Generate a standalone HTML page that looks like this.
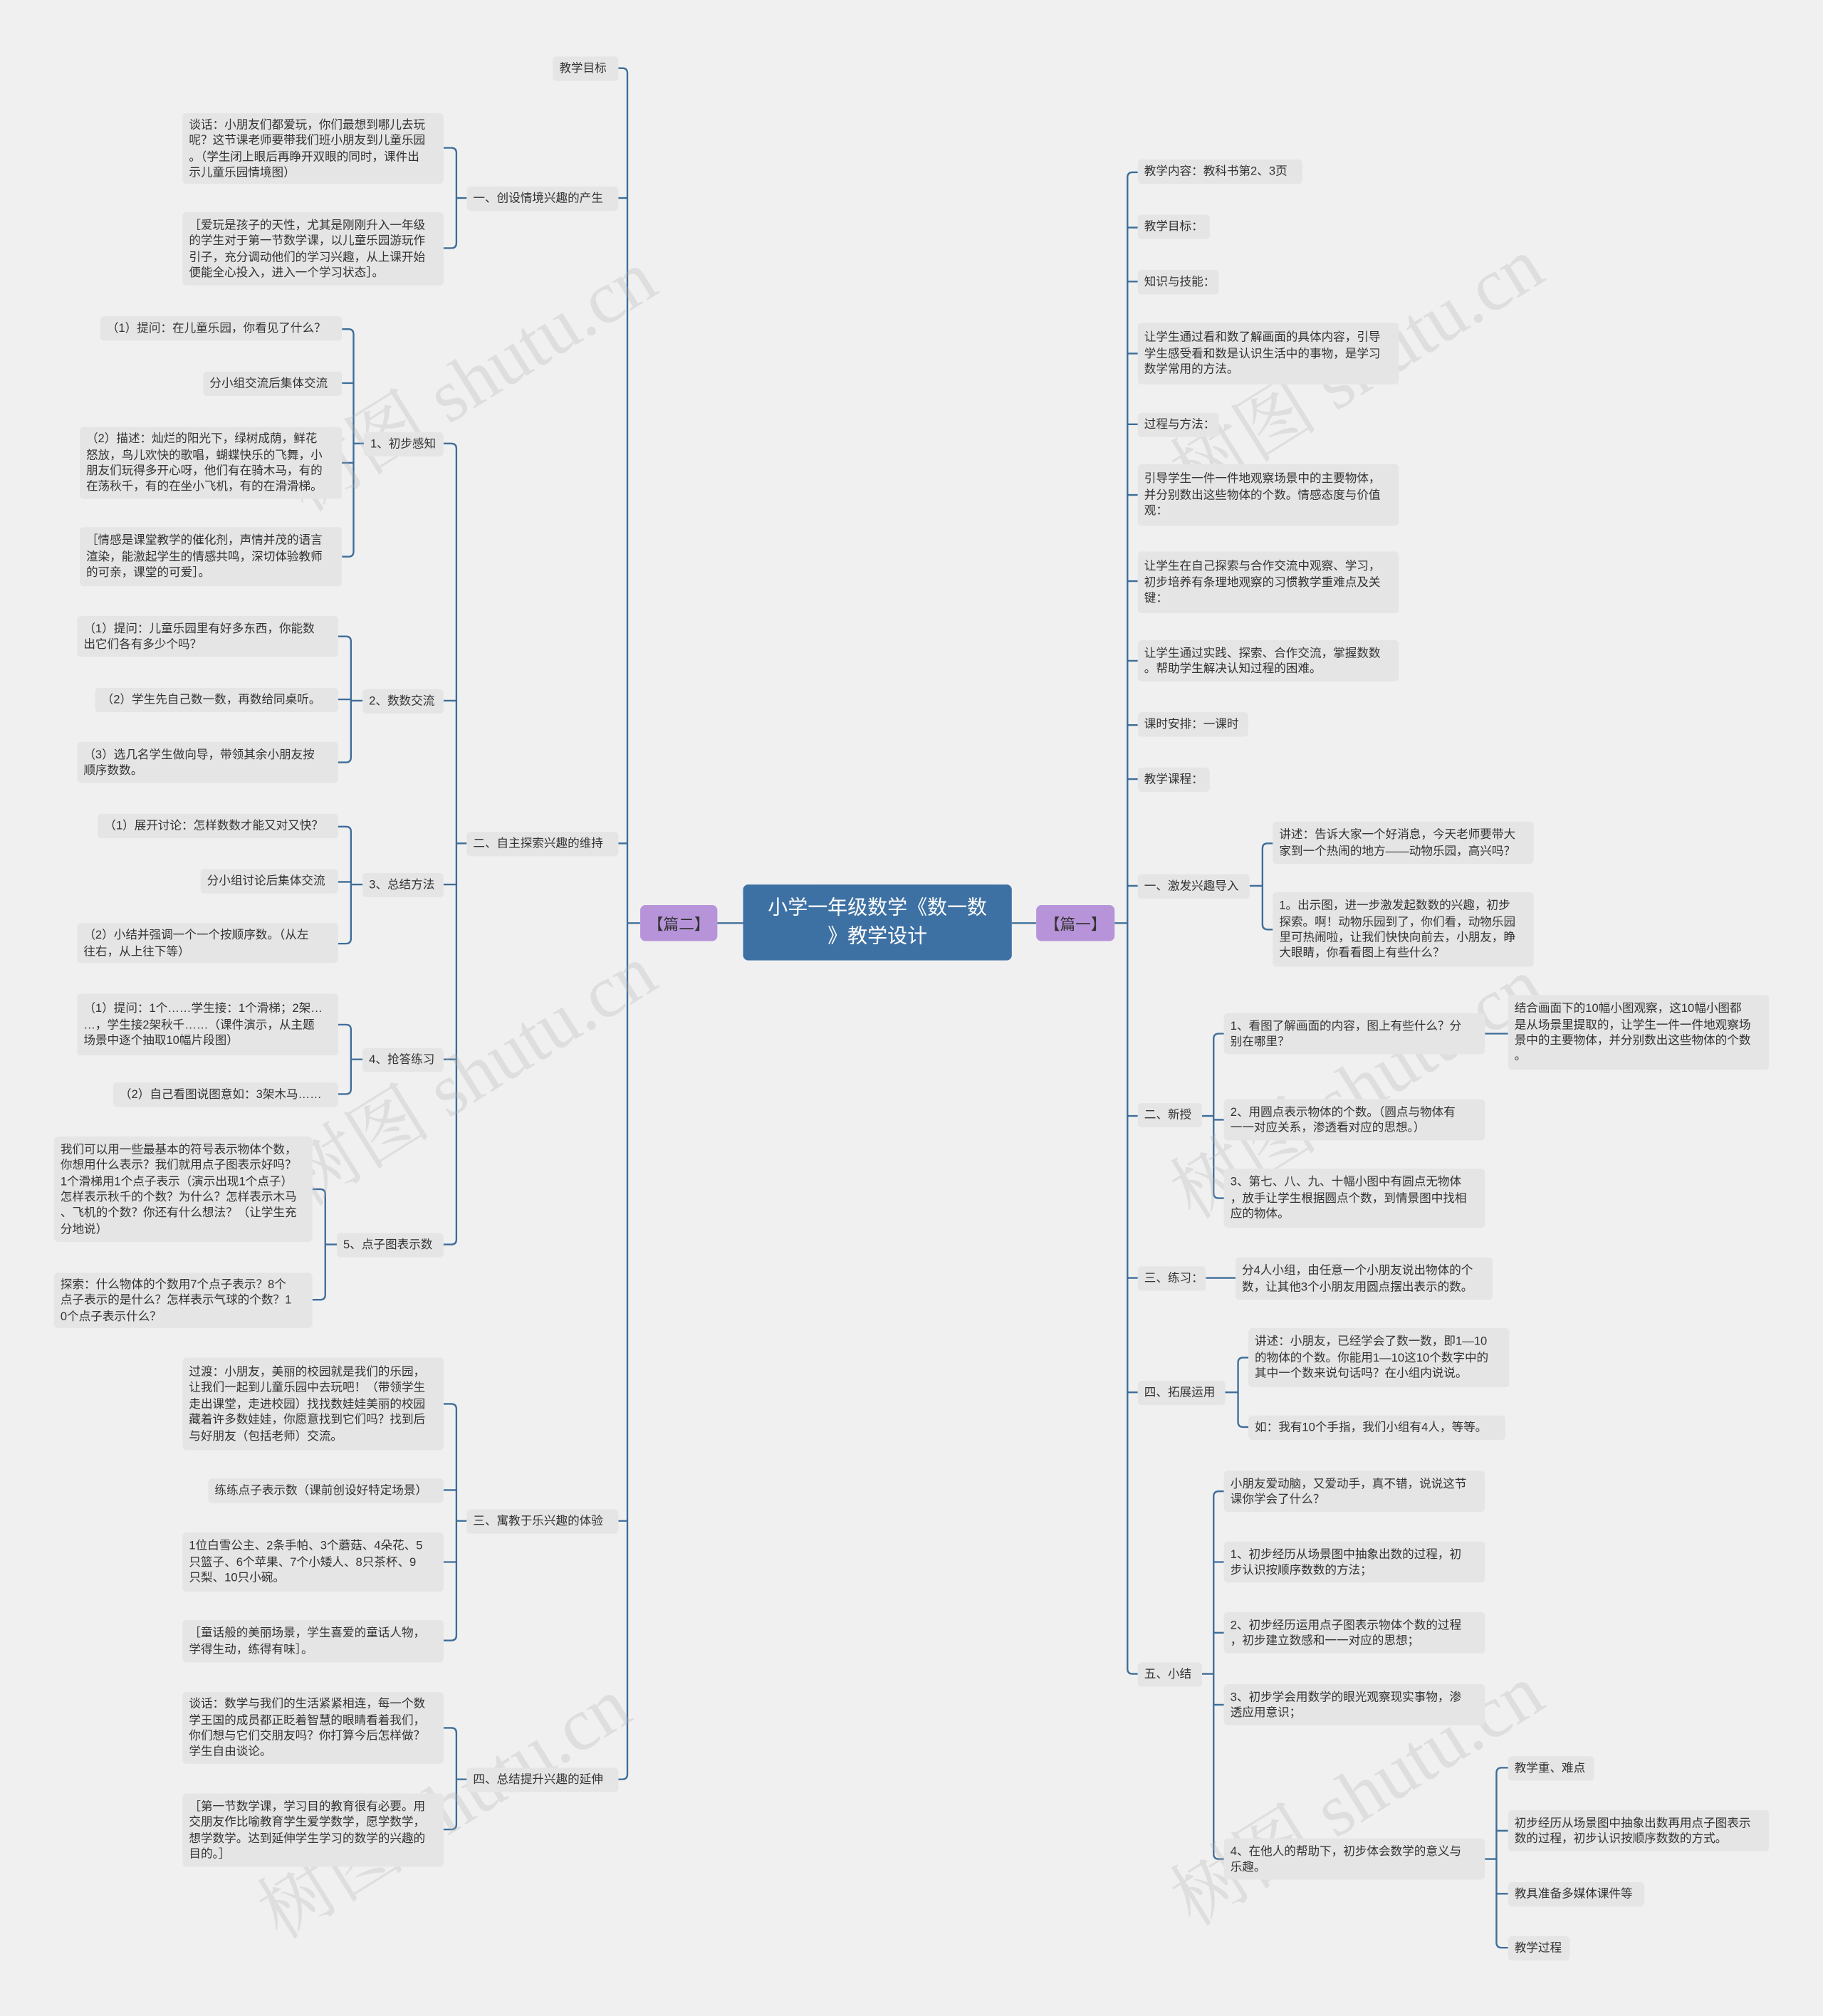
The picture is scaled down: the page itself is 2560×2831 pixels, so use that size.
<!DOCTYPE html>
<html><head><meta charset="utf-8"><style>
html,body{margin:0;padding:0;background:#f0f0f0;}
body{width:2560px;height:2831px;overflow:hidden;position:relative;}
#c{position:absolute;left:0;top:0;width:1418px;height:1568px;transform:scale(1.80536);transform-origin:0 0;font-family:"Liberation Sans","Noto Sans CJK SC",sans-serif;}
.n{position:absolute;background:#e5e5e5;border-radius:3px;font-size:9.2px;line-height:12.4px;color:#333;box-sizing:border-box;padding:0 5px;display:flex;align-items:center;white-space:nowrap;}
.wm{position:absolute;font-size:58px;color:rgba(175,175,175,0.28);transform:rotate(-32deg);white-space:nowrap;font-family:"Liberation Serif","Noto Serif CJK SC",serif;}
svg{position:absolute;left:0;top:0;}
</style></head><body><div id="c">
<svg width="1418" height="1568" fill="none" stroke="#3d6d99" stroke-width="1.3">
<path d="M558 718H578M787 718H806"/>
<path d="M498 718H488M481 53H484Q488 53 488 57V1380Q488 1384 484 1384H481M488 154H481M488 656H481M488 1183H481"/>
<path d="M867 718H877M885 134H881Q877 134 877 138V1298Q877 1302 881 1302H885M877 177H885M877 219H885M877 275H885M877 330H885M877 385H885M877 452H885M877 514H885M877 564H885M877 606H885M877 689H885M877 868H885M877 994H885M877 1083H885"/>
<path d="M363 154H355M345 115H351Q355 115 355 119V189Q355 193 351 193H345"/>
<path d="M363 656H355M345 345H351Q355 345 355 349V964Q355 968 351 968H345M355 545H345M355 688H345M355 824H345"/>
<path d="M283 345H275M266 256H271Q275 256 275 260V429Q275 433 271 433H266M275 298H266M275 360H266"/>
<path d="M282 545H273M263 495H269Q273 495 273 499V589Q273 593 269 593H263M273 544H263"/>
<path d="M282 688H273M263 643H269Q273 643 273 647V730Q273 734 269 734H263M273 686H263"/>
<path d="M282 824H273M263 797H269Q273 797 273 801V847Q273 851 269 851H263"/>
<path d="M262 968H253M243 925H249Q253 925 253 929V1007Q253 1011 249 1011H243"/>
<path d="M363 1183H355M345 1092H351Q355 1092 355 1096V1272Q355 1276 351 1276H345M355 1159H345M355 1215H345"/>
<path d="M363 1384H355M345 1344H351Q355 1344 355 1348V1419Q355 1423 351 1423H345"/>
<path d="M972 689H982M990 656H986Q982 656 982 660V719Q982 723 986 723H990"/>
<path d="M935 868H944M952 804H948Q944 804 944 808V928Q944 932 948 932H952M944 871H952"/>
<path d="M1155 804H1173M938 994H961"/>
<path d="M953 1083H963M971 1056H967Q963 1056 963 1060V1106Q963 1110 967 1110H971"/>
<path d="M935 1302H944M952 1160H948Q944 1160 944 1164V1442Q944 1446 948 1446H952M944 1215H952M944 1270H952M944 1326H952"/>
<path d="M1155 1446H1164M1173 1375H1168Q1164 1375 1164 1379V1511Q1164 1515 1168 1515H1173M1164 1424H1173M1164 1473H1173"/>
</svg>

<div class="wm" style="left:200px;top:250px">树图 shutu.cn</div>
<div class="wm" style="left:200px;top:790px">树图 shutu.cn</div>
<div class="wm" style="left:180px;top:1360px">树图 shutu.cn</div>
<div class="wm" style="left:890px;top:240px">树图 shutu.cn</div>
<div class="wm" style="left:890px;top:800px">树图 shutu.cn</div>
<div class="wm" style="left:890px;top:1350px">树图 shutu.cn</div>

<div style="position:absolute;left:578px;top:688px;width:209px;height:59px;background:#3e71a3;border-radius:4px;color:#fff;font-size:15.5px;line-height:22px;text-align:center;display:flex;align-items:center;justify-content:center;">小学一年级数学《数一数<br>》教学设计</div>
<div style="position:absolute;left:498px;top:704px;width:60px;height:28px;background:#b794d9;border-radius:4px;color:#333;font-size:12px;display:flex;align-items:center;justify-content:center;">【篇二】</div>
<div style="position:absolute;left:806px;top:704px;width:61px;height:28px;background:#b794d9;border-radius:4px;color:#333;font-size:12px;display:flex;align-items:center;justify-content:center;">【篇一】</div>

<!-- left -->
<div class="n" style="left:430px;top:44px;width:51px;height:19px">教学目标</div>
<div class="n" style="left:363px;top:145px;width:118px;height:19px">一、创设情境兴趣的产生</div>
<div class="n" style="left:363px;top:647px;width:118px;height:19px">二、自主探索兴趣的维持</div>
<div class="n" style="left:363px;top:1174px;width:118px;height:19px">三、寓教于乐兴趣的体验</div>
<div class="n" style="left:363px;top:1375px;width:118px;height:19px">四、总结提升兴趣的延伸</div>

<div class="n" style="left:142px;top:88px;width:203px;height:55px"><div>谈话：小朋友们都爱玩，你们最想到哪儿去玩<br>呢？这节课老师要带我们班小朋友到儿童乐园<br>。（学生闭上眼后再睁开双眼的同时，课件出<br>示儿童乐园情境图）</div></div>
<div class="n" style="left:142px;top:165px;width:203px;height:57px"><div>［爱玩是孩子的天性，尤其是刚刚升入一年级<br>的学生对于第一节数学课，以儿童乐园游玩作<br>引子，充分调动他们的学习兴趣，从上课开始<br>便能全心投入，进入一个学习状态］。</div></div>

<div class="n" style="left:283px;top:336px;width:62px;height:19px">1、初步感知</div>
<div class="n" style="left:282px;top:536px;width:63px;height:19px">2、数数交流</div>
<div class="n" style="left:282px;top:679px;width:63px;height:19px">3、总结方法</div>
<div class="n" style="left:282px;top:815px;width:63px;height:19px">4、抢答练习</div>
<div class="n" style="left:262px;top:959px;width:83px;height:19px">5、点子图表示数</div>

<div class="n" style="left:78px;top:246px;width:188px;height:19px">（1）提问：在儿童乐园，你看见了什么？</div>
<div class="n" style="left:158px;top:289px;width:108px;height:19px">分小组交流后集体交流</div>
<div class="n" style="left:62px;top:332px;width:204px;height:56px"><div>（2）描述：灿烂的阳光下，绿树成荫，鲜花<br>怒放，鸟儿欢快的歌唱，蝴蝶快乐的飞舞，小<br>朋友们玩得多开心呀，他们有在骑木马，有的<br>在荡秋千，有的在坐小飞机，有的在滑滑梯。</div></div>
<div class="n" style="left:62px;top:410px;width:204px;height:46px"><div>［情感是课堂教学的催化剂，声情并茂的语言<br>渲染，能激起学生的情感共鸣，深切体验教师<br>的可亲，课堂的可爱］。</div></div>

<div class="n" style="left:60px;top:479px;width:203px;height:32px"><div>（1）提问：儿童乐园里有好多东西，你能数<br>出它们各有多少个吗？</div></div>
<div class="n" style="left:74px;top:535px;width:189px;height:19px">（2）学生先自己数一数，再数给同桌听。</div>
<div class="n" style="left:60px;top:577px;width:203px;height:32px"><div>（3）选几名学生做向导，带领其余小朋友按<br>顺序数数。</div></div>

<div class="n" style="left:76px;top:633px;width:187px;height:19px">（1）展开讨论：怎样数数才能又对又快？</div>
<div class="n" style="left:156px;top:676px;width:107px;height:19px">分小组讨论后集体交流</div>
<div class="n" style="left:60px;top:718px;width:203px;height:31px"><div>（2）小结并强调一个一个按顺序数。（从左<br>往右，从上往下等）</div></div>

<div class="n" style="left:60px;top:773px;width:203px;height:48px"><div>（1）提问：1个……学生接：1个滑梯；2架…<br>…，学生接2架秋千……（课件演示，从主题<br>场景中逐个抽取10幅片段图）</div></div>
<div class="n" style="left:88px;top:842px;width:175px;height:19px">（2）自己看图说图意如：3架木马……</div>

<div class="n" style="left:42px;top:884px;width:201px;height:82px"><div>我们可以用一些最基本的符号表示物体个数，<br>你想用什么表示？我们就用点子图表示好吗？<br>1个滑梯用1个点子表示（演示出现1个点子）<br>怎样表示秋千的个数？为什么？怎样表示木马<br>、飞机的个数？你还有什么想法？（让学生充<br>分地说）</div></div>
<div class="n" style="left:42px;top:990px;width:201px;height:43px"><div>探索：什么物体的个数用7个点子表示？8个<br>点子表示的是什么？怎样表示气球的个数？1<br>0个点子表示什么？</div></div>

<div class="n" style="left:142px;top:1056px;width:203px;height:72px"><div>过渡：小朋友，美丽的校园就是我们的乐园，<br>让我们一起到儿童乐园中去玩吧！（带领学生<br>走出课堂，走进校园）找找数娃娃美丽的校园<br>藏着许多数娃娃，你愿意找到它们吗？找到后<br>与好朋友（包括老师）交流。</div></div>
<div class="n" style="left:162px;top:1150px;width:183px;height:19px">练练点子表示数（课前创设好特定场景）</div>
<div class="n" style="left:142px;top:1192px;width:203px;height:46px"><div>1位白雪公主、2条手帕、3个蘑菇、4朵花、5<br>只篮子、6个苹果、7个小矮人、8只茶杯、9<br>只梨、10只小碗。</div></div>
<div class="n" style="left:142px;top:1260px;width:203px;height:33px"><div>［童话般的美丽场景，学生喜爱的童话人物，<br>学得生动，练得有味］。</div></div>

<div class="n" style="left:142px;top:1316px;width:203px;height:56px"><div>谈话：数学与我们的生活紧紧相连，每一个数<br>学王国的成员都正眨着智慧的眼睛看着我们，<br>你们想与它们交朋友吗？你打算今后怎样做？<br>学生自由谈论。</div></div>
<div class="n" style="left:142px;top:1395px;width:203px;height:57px"><div>［第一节数学课，学习目的教育很有必要。用<br>交朋友作比喻教育学生爱学数学，愿学数学，<br>想学数学。达到延伸学生学习的数学的兴趣的<br>目的。］</div></div>

<!-- right -->
<div class="n" style="left:885px;top:124px;width:128px;height:19px">教学内容：教科书第2、3页</div>
<div class="n" style="left:885px;top:167px;width:56px;height:19px">教学目标：</div>
<div class="n" style="left:885px;top:210px;width:63px;height:19px">知识与技能：</div>
<div class="n" style="left:885px;top:251px;width:203px;height:48px"><div>让学生通过看和数了解画面的具体内容，引导<br>学生感受看和数是认识生活中的事物，是学习<br>数学常用的方法。</div></div>
<div class="n" style="left:885px;top:321px;width:63px;height:19px">过程与方法：</div>
<div class="n" style="left:885px;top:361px;width:203px;height:48px"><div>引导学生一件一件地观察场景中的主要物体，<br>并分别数出这些物体的个数。情感态度与价值<br>观：</div></div>
<div class="n" style="left:885px;top:429px;width:203px;height:48px"><div>让学生在自己探索与合作交流中观察、学习，<br>初步培养有条理地观察的习惯教学重难点及关<br>键：</div></div>
<div class="n" style="left:885px;top:498px;width:203px;height:32px"><div>让学生通过实践、探索、合作交流，掌握数数<br>。帮助学生解决认知过程的困难。</div></div>
<div class="n" style="left:885px;top:554px;width:86px;height:19px">课时安排：一课时</div>
<div class="n" style="left:885px;top:597px;width:56px;height:19px">教学课程：</div>
<div class="n" style="left:885px;top:680px;width:87px;height:19px">一、激发兴趣导入</div>
<div class="n" style="left:885px;top:858px;width:50px;height:19px">二、新授</div>
<div class="n" style="left:885px;top:985px;width:53px;height:19px">三、练习：</div>
<div class="n" style="left:885px;top:1074px;width:68px;height:19px">四、拓展运用</div>
<div class="n" style="left:885px;top:1293px;width:50px;height:19px">五、小结</div>

<div class="n" style="left:990px;top:639px;width:203px;height:33px"><div>讲述：告诉大家一个好消息，今天老师要带大<br>家到一个热闹的地方——动物乐园，高兴吗？</div></div>
<div class="n" style="left:990px;top:694px;width:203px;height:58px"><div>1。出示图，进一步激发起数数的兴趣，初步<br>探索。啊！动物乐园到了，你们看，动物乐园<br>里可热闹啦，让我们快快向前去，小朋友，睁<br>大眼睛，你看看图上有些什么？</div></div>

<div class="n" style="left:952px;top:788px;width:203px;height:32px"><div>1、看图了解画面的内容，图上有些什么？分<br>别在哪里？</div></div>
<div class="n" style="left:1173px;top:774px;width:203px;height:58px"><div>结合画面下的10幅小图观察，这10幅小图都<br>是从场景里提取的，让学生一件一件地观察场<br>景中的主要物体，并分别数出这些物体的个数<br>。</div></div>
<div class="n" style="left:952px;top:855px;width:203px;height:32px"><div>2、用圆点表示物体的个数。（圆点与物体有<br>一一对应关系，渗透看对应的思想。）</div></div>
<div class="n" style="left:952px;top:909px;width:203px;height:46px"><div>3、第七、八、九、十幅小图中有圆点无物体<br>，放手让学生根据圆点个数，到情景图中找相<br>应的物体。</div></div>

<div class="n" style="left:961px;top:978px;width:200px;height:33px"><div>分4人小组，由任意一个小朋友说出物体的个<br>数，让其他3个小朋友用圆点摆出表示的数。</div></div>

<div class="n" style="left:971px;top:1033px;width:203px;height:46px"><div>讲述：小朋友，已经学会了数一数，即1—10<br>的物体的个数。你能用1—10这10个数字中的<br>其中一个数来说句话吗？在小组内说说。</div></div>
<div class="n" style="left:971px;top:1101px;width:200px;height:19px">如：我有10个手指，我们小组有4人，等等。</div>

<div class="n" style="left:952px;top:1144px;width:203px;height:32px"><div>小朋友爱动脑，又爱动手，真不错，说说这节<br>课你学会了什么？</div></div>
<div class="n" style="left:952px;top:1199px;width:203px;height:32px"><div>1、初步经历从场景图中抽象出数的过程，初<br>步认识按顺序数数的方法；</div></div>
<div class="n" style="left:952px;top:1254px;width:203px;height:32px"><div>2、初步经历运用点子图表示物体个数的过程<br>，初步建立数感和一一对应的思想；</div></div>
<div class="n" style="left:952px;top:1310px;width:203px;height:32px"><div>3、初步学会用数学的眼光观察现实事物，渗<br>透应用意识；</div></div>
<div class="n" style="left:952px;top:1430px;width:203px;height:32px"><div>4、在他人的帮助下，初步体会数学的意义与<br>乐趣。</div></div>

<div class="n" style="left:1173px;top:1366px;width:67px;height:19px">教学重、难点</div>
<div class="n" style="left:1173px;top:1408px;width:203px;height:32px"><div>初步经历从场景图中抽象出数再用点子图表示<br>数的过程，初步认识按顺序数数的方式。</div></div>
<div class="n" style="left:1173px;top:1464px;width:106px;height:19px">教具准备多媒体课件等</div>
<div class="n" style="left:1173px;top:1506px;width:48px;height:19px">教学过程</div>
</div></body></html>
